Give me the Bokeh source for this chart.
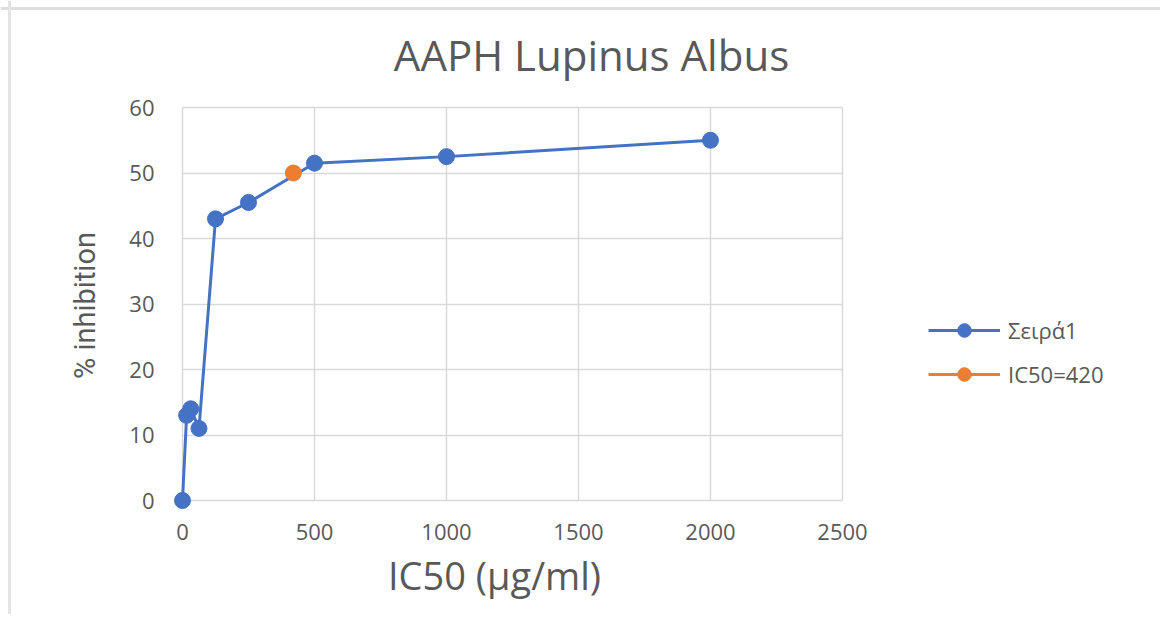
import math
from bokeh.plotting import figure
from bokeh.models import Range1d, FixedTicker, Label, Legend, LegendItem, Grid, Span
from bokeh.embed import file_html
from bokeh.resources import INLINE

# data
conc = [0, 15.6, 31.25, 62.5, 125, 250, 500, 1000, 2000]
inhibition = [0, 13, 14, 11, 43, 45.5, 51.5, 52.5, 55]
ic50_x = [420]
ic50_y = [50]
x_ticks = [0, 500, 1000, 1500, 2000, 2500]
y_ticks = [0, 10, 20, 30, 40, 50, 60]
title_text = "AAPH Lupinus Albus"
x_title = "IC50 (μg/ml)"
y_title = "% inhibition"
series_names = ["Σειρά1", "IC50=420"]

BLUE = "#4472C4"
ORANGE = "#ED7D31"
TXT = "#595959"
GRID = "#d9d9d9"
FONT = "Open Sans"

# layout (pixels in the canvas)
W, H = 1160, 614
px_x0, px_x1 = 182, 842      # where x_ticks[0] / x_ticks[-1] fall
px_y0, px_y1 = 500, 107      # where y_ticks[0] / y_ticks[-1] fall (from top)

sx = (px_x1 - px_x0) / (x_ticks[-1] - x_ticks[0])
sy = (px_y0 - px_y1) / (y_ticks[-1] - y_ticks[0])
x_range = Range1d(x_ticks[0] - px_x0 / sx, x_ticks[0] + (W - px_x0) / sx)
y_range = Range1d(y_ticks[0] - (H - px_y0) / sy, y_ticks[0] + px_y0 / sy)

p = figure(width=W, height=H, x_range=x_range, y_range=y_range,
           x_axis_location=None, y_axis_location=None,
           min_border=0, output_backend="svg", toolbar_location=None)
p.outline_line_color = None
p.background_fill_color = "white"
p.border_fill_color = "white"
p.xgrid.visible = False
p.ygrid.visible = False

def sy_screen(top_px):
    return H - top_px

# faint chart-area border (top and left edges)
p.add_layout(Span(location=sy_screen(8), location_units="screen", dimension="width",
                  line_color="#dedede", line_width=3))
p.add_layout(Span(location=9, location_units="screen", dimension="height",
                  line_color="#e4e4e4", line_width=3))

xg = Grid(dimension=0, ticker=FixedTicker(ticks=x_ticks), bounds=(x_ticks[0], x_ticks[-1]),
          cross_bounds=(y_ticks[0], y_ticks[-1]), grid_line_color=GRID, grid_line_width=1.5)
yg = Grid(dimension=1, ticker=FixedTicker(ticks=y_ticks), bounds=(y_ticks[0], y_ticks[-1]),
          cross_bounds=(x_ticks[0], x_ticks[-1]), grid_line_color=GRID, grid_line_width=1.5)
p.add_layout(xg, "center")
p.add_layout(yg, "center")

# tick labels, placed through the data scale
for t in x_ticks:
    p.add_layout(Label(x=t, x_units="data", y=sy_screen(531), y_units="screen", text=str(t),
                       text_align="center", text_baseline="middle", text_font=FONT,
                       text_font_size="22px", text_color=TXT))
for t in y_ticks:
    p.add_layout(Label(x=px_x0 - 28, x_units="screen", y=t, y_units="data", text=str(t),
                       text_align="right", text_baseline="middle", text_font=FONT,
                       text_font_size="22px", text_color=TXT))

l1 = p.line(conc, inhibition, line_color=BLUE, line_width=3)
c1 = p.scatter(conc, inhibition, size=16, fill_color=BLUE, line_color=BLUE)
l2 = p.line(ic50_x, ic50_y, line_color=ORANGE, line_width=3)
c2 = p.scatter(ic50_x, ic50_y, size=16, fill_color=ORANGE, line_color=ORANGE)

legend = Legend(items=[LegendItem(label=series_names[0], renderers=[l1, c1]),
                       LegendItem(label=series_names[1], renderers=[l2, c2])],
                location=(928, sy_screen(391)), glyph_width=72, glyph_height=34,
                label_height=34, spacing=10, padding=0, margin=0, label_standoff=8,
                border_line_color=None, background_fill_alpha=0,
                label_text_font=FONT, label_text_font_size="22px", label_text_color=TXT)
p.add_layout(legend, "center")

p.add_layout(Label(x=591, y=sy_screen(54), x_units="screen", y_units="screen", text=title_text,
                   text_align="center", text_baseline="middle", text_font=FONT,
                   text_font_size="42px", text_color=TXT))
p.add_layout(Label(x=494, y=sy_screen(574), x_units="screen", y_units="screen", text=x_title,
                   text_align="center", text_baseline="middle", text_font=FONT,
                   text_font_size="38px", text_color=TXT))
p.add_layout(Label(x=84, y=sy_screen(305), x_units="screen", y_units="screen", text=y_title,
                   angle=math.pi / 2, text_align="center", text_baseline="middle",
                   text_font="Roboto", text_font_size="29px", text_color=TXT))

open("out.html", "w").write(file_html(p, INLINE))
